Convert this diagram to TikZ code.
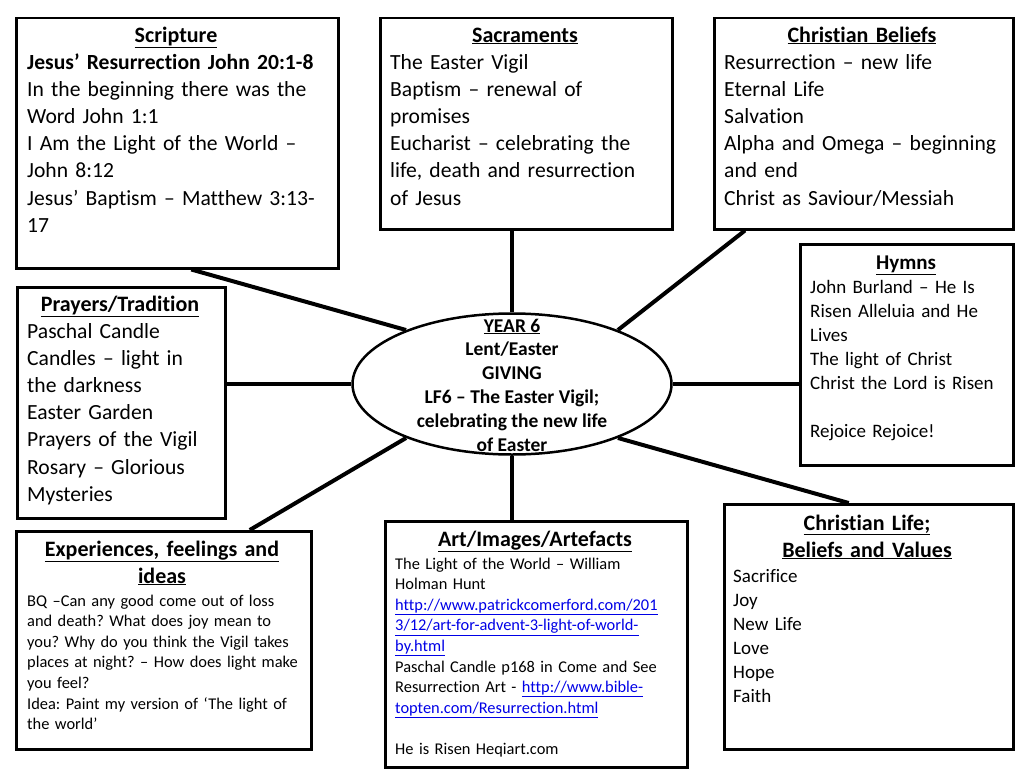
\documentclass[tikz,border=0pt]{standalone}
\usepackage{fontspec}
\setmainfont{Carlito}[Ligatures=NoCommon]
\usetikzlibrary{shapes.geometric}
\definecolor{linkblue}{RGB}{0,0,230}
\newcommand{\lnk}[1]{{\color{linkblue}\underline{#1}}}
\frenchspacing
\begin{document}
\begin{tikzpicture}[x=1pt,y=-1pt,
  box/.style={draw, line width=2.5pt, anchor=north west, inner sep=0pt},
  conn/.style={line width=4pt},
  hd/.style={anchor=base, inner sep=0pt, text width=300pt, align=center,
    font=\fontsize{22}{27}\selectfont\bfseries},
  bodyA/.style={anchor=base west, inner sep=0pt, text width=320pt, align=left,
    font=\fontsize{21.6}{27.2}\selectfont},
  bodyB/.style={anchor=base west, inner sep=0pt, text width=300pt, align=left,
    font=\fontsize{19}{24}\selectfont},
  bodyC/.style={anchor=base west, inner sep=0pt, text width=320pt, align=left,
    font=\fontsize{16.4}{20.6}\selectfont},
]
\useasboundingbox (0,0) rectangle (1024,768);

% boxes
\node[box, minimum width=322pt, minimum height=250pt] (scr) at (15,17) {};
\node[box, minimum width=292pt, minimum height=211pt] (sac) at (379,17) {};
\node[box, minimum width=299pt, minimum height=211pt] (bel) at (713,17) {};
\node[box, minimum width=213pt, minimum height=221pt] (hym) at (799,243) {};
\node[box, minimum width=208pt, minimum height=231pt] (pra) at (16,286) {};
\node[box, minimum width=295pt, minimum height=218pt] (exp) at (15,530) {};
\node[box, minimum width=302pt, minimum height=246pt] (art) at (384,520) {};
\node[box, minimum width=289pt, minimum height=245pt] (lif) at (723,503) {};

% centre
\node[draw, ellipse, line width=2.5pt, minimum width=319pt, minimum height=141pt, inner sep=0pt] (ctr) at (512,384) {};
\node[align=center, inner sep=0pt, font=\fontsize{19.5}{23.8}\selectfont\bfseries] (ctrtxt) at (512,385)
  {\underline{YEAR 6}\\Lent/Easter\\GIVING\\LF6 – The Easter Vigil;\\celebrating the new life\\of Easter};

% connectors
\draw[conn] ([xshift=14pt]scr.south) -- (ctr.153);
\draw[conn] (ctr.north) -- (ctr.north |- sac.south);
\draw[conn] ([xshift=32pt]bel.south west) -- (ctr.27);
\draw[conn] (ctr.east) -- (ctr.east -| hym.west);
\draw[conn] (ctr.west) -- (ctr.west -| pra.east);
\draw[conn] ([xshift=86pt]exp.north) -- (ctr.207);
\draw[conn] (ctr.south) -- (ctr.south |- art.north);
\draw[conn] ([xshift=-20pt]lif.north) -- (ctr.333);

% Scripture
\node[hd] (scrh) at (176,42) {\underline{Scripture}};
\node[bodyA] (scrb) at (27,69) {\textbf{Jesus’ Resurrection John 20:1-8}\\
In the beginning there was the\\Word John 1:1\\I Am the Light of the World –\\John 8:12\\Jesus’ Baptism – Matthew 3:13-\\17};

% Sacraments
\node[hd] (sach) at (525,42) {\underline{Sacraments}};
\node[bodyA] (sacb) at (390,69) {The Easter Vigil\\Baptism – renewal of\\promises\\Eucharist – celebrating the\\life, death and resurrection\\of Jesus};

% Christian Beliefs
\node[hd] (belh) at (862,42) {\underline{Christian Beliefs}};
\node[bodyA] (belb) at (724,69) {Resurrection – new life\\Eternal Life\\Salvation\\Alpha and Omega – beginning\\and end\\Christ as Saviour/Messiah};

% Hymns
\node[hd, font=\fontsize{21}{24}\selectfont\bfseries] (hymh) at (906,269) {\underline{Hymns}};
\node[bodyB] (hymb) at (810,293) {John Burland – He Is\\Risen Alleluia and He\\Lives\\The light of Christ\\Christ the Lord is Risen\\\mbox{}\\Rejoice Rejoice!};

% Prayers
\node[hd] (prah) at (120,311) {\underline{Prayers/Tradition}};
\node[bodyA] (prab) at (27,338) {Paschal Candle\\Candles – light in\\the darkness\\Easter Garden\\Prayers of the Vigil\\Rosary – Glorious\\Mysteries};

% Experiences
\node[hd] (exph) at (162,556) {\underline{Experiences, feelings and}\\\underline{ideas}};
\node[bodyC] (expb) at (27,606) {BQ –Can any good come out of loss\\and death? What does joy mean to\\you? Why do you think the Vigil takes\\places at night? – How does light make\\you feel?\\Idea: Paint my version of ‘The light of\\the world’};

% Art
\node[hd] (arth) at (535,546) {\underline{Art/Images/Artefacts}};
\node[bodyC] (artb) at (395,569) {The Light of the World – William\\Holman Hunt\\\lnk{http://www.patrickcomerford.com/201}\\\lnk{3/12/art-for-advent-3-light-of-world-}\\\lnk{by.html}\\Paschal Candle p168 in Come and See\\Resurrection Art - \lnk{http://www.bible-}\\\lnk{topten.com/Resurrection.html}\\\mbox{}\\He is Risen Heqiart.com};

% Christian Life
\node[hd] (lifh) at (867,530) {\underline{Christian Life;}\\\underline{Beliefs and Values}};
\node[bodyB] (lifb) at (733,582) {Sacrifice\\Joy\\New Life\\Love\\Hope\\Faith};
\end{tikzpicture}
\end{document}
